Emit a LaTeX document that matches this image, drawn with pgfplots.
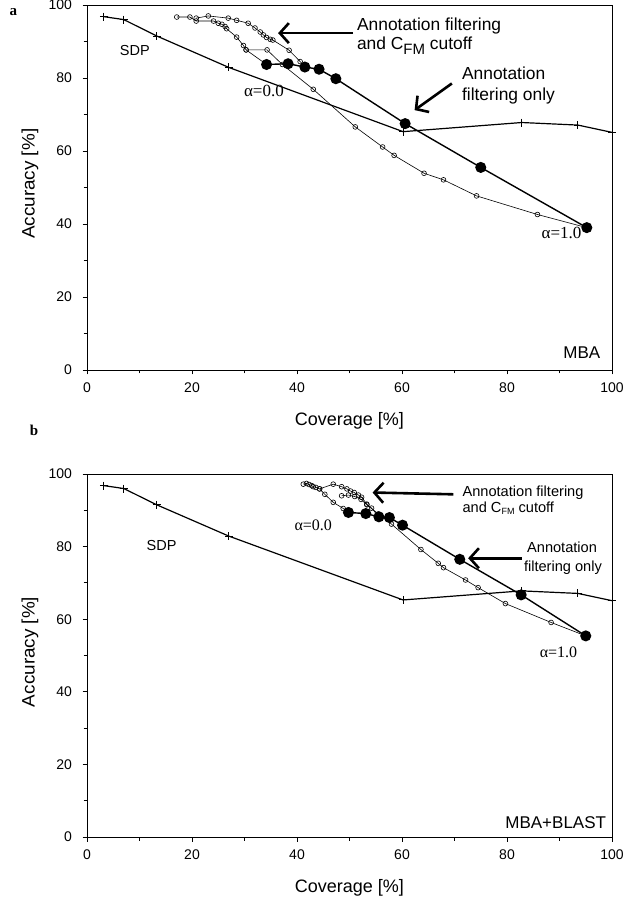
\documentclass[border=0pt]{standalone}
\usepackage{fontspec}
\setmainfont{Liberation Sans}
\newfontfamily\serifalpha{Liberation Serif}
\usepackage{pgfplots}
\pgfplotsset{compat=1.18}
\usetikzlibrary{arrows.meta}

\tikzset{bigarrow/.style={line width=2.6pt, -{Straight Barb[length=9pt,width=20pt]}}}
\pgfplotsset{
  mystyle/.style={
    width=525pt, scale only axis,
    xmin=0,xmax=100,ymin=0,ymax=100,
    xtick={0,20,...,100}, ytick={0,20,...,100},
    minor x tick num=1, minor y tick num=1,
    xtick pos=bottom, ytick pos=left, tick align=outside,
    major tick length=4.5pt, minor tick length=3.5pt,
    axis line style={line width=0.9pt},
    every tick/.style={line width=0.9pt, black},
    /pgf/number format/assume math mode=true,
    ticklabel style={font=\fontsize{14}{15}\selectfont},
    xticklabel style={yshift=-5pt},
    yticklabel style={xshift=-7pt},
    xlabel={Coverage [\%]}, ylabel={\scalebox{1.05}[1]{Accuracy [\%]}},
    label style={font=\fontsize{18}{20}\selectfont},
    xlabel style={at={(axis description cs:0.5,-0.14)}, anchor=center},
    ylabel style={at={(axis description cs:-0.1086,0.51)}, anchor=center},
    clip=false,
  },
  sdp/.style={black, line width=1.2pt, mark=+, mark size=4pt, mark options={line width=1pt}},
  filled/.style={black, line width=1.4pt, mark=*, mark size=4.8pt},
  openc/.style={black, line width=0.6pt, mark=o, mark size=2.4pt, mark options={fill=white, line width=0.6pt}},
}

\begin{document}
\begin{tikzpicture}
\path[use as bounding box] (0,0) rectangle (627pt,899pt);
\node[anchor=base west, font=\serifalpha\bfseries\fontsize{15}{16}\selectfont] at (6pt,883pt) {a};
\node[anchor=center, font=\serifalpha\bfseries\fontsize{15}{16}\selectfont] at (34pt,469pt) {b};

% ---------------- panel a ----------------
\begin{axis}[mystyle, height=365pt, at={(87pt,529pt)}, anchor=south west]
\addplot[openc] coordinates {(20.8,96.4) (23.1,97.0) (26.9,96.4) (28.5,95.8) (30.7,95.0) (32.0,93.7) (33.0,92.6) (33.6,91.8) (34.2,91.1) (34.9,90.6) (35.4,90.4) (38.5,87.6) (40.6,84.5) (41.5,83.0)};
\addplot[openc] coordinates {(17.1,96.7) (19.6,96.7) (20.8,95.6) (24.1,95.6) (25.0,95.0) (25.7,94.7) (26.3,94.1) (26.6,93.5) (28.5,91.2) (29.8,88.9) (30.3,87.7) (34.2,83.7)};
\addplot[openc] coordinates {(30.3,87.7) (34.3,87.7) (37.2,83.7) (43.1,76.9) (51.1,66.6) (56.3,61.1) (58.5,58.8) (64.2,53.9) (67.9,52.1) (74.2,47.7) (85.8,42.6) (95.2,39.0)};
\addplot[sdp] coordinates {(3.2,96.8) (7.0,96.0) (13.3,91.5) (27.0,82.9) (60.2,65.3) (82.8,67.8) (93.5,67.1) (100,65.1)};
\addplot[filled] coordinates {(34.2,83.7) (38.3,83.9) (41.5,83.0) (44.2,82.4) (47.4,79.8) (60.6,67.5) (75.0,55.5) (95.2,39.0)};

\node[anchor=center, font=\fontsize{14.5}{15}\selectfont] at (axis cs:9.1,87.5) {SDP};
\node[anchor=center, font=\serifalpha\fontsize{17}{18}\selectfont] at (axis cs:33.7,76.5) {α=0.0};
\node[anchor=center, font=\serifalpha\fontsize{17}{18}\selectfont] at (axis cs:90.4,37.6) {α=1.0};
\node[anchor=base east, font=\fontsize{17}{18}\selectfont, inner sep=0pt] at (axis cs:97.8,3.2) {MBA};

\draw[bigarrow] (axis cs:50.7,92.3) -- (axis cs:36.4,92.3);
\node[anchor=base west, inner sep=0pt, font=\fontsize{17.4}{18}\selectfont] at (axis cs:51.4,93.0) {Annotation filtering};
\node[anchor=base west, inner sep=0pt, font=\fontsize{17.4}{18}\selectfont] at (axis cs:51.4,87.9) {and C\raisebox{-5pt}{\fontsize{15}{15}\selectfont FM} cutoff};

\draw[bigarrow] (axis cs:69.5,78.5) -- (axis cs:62.4,71.2);
\node[anchor=base west, inner sep=0pt, font=\fontsize{17.4}{18}\selectfont] at (axis cs:71.4,79.5) {Annotation};
\node[anchor=base west, inner sep=0pt, font=\fontsize{17.4}{18}\selectfont] at (axis cs:71.4,73.7) {filtering only};
\end{axis}

% ---------------- panel b ----------------
\begin{axis}[mystyle, height=363pt, at={(87pt,62pt)}, anchor=south west]
\addplot[openc] coordinates {(44.3,95.9) (46.9,97.2) (48.5,96.5) (49.5,95.9) (50.2,95.3) (50.9,94.9) (51.7,94.2) (52.3,93.6) (53.3,91.7) (54.2,90.6) (55.6,88.2)};
\addplot[openc] coordinates {(41.2,97.2) (41.8,97.4) (42.3,97.1) (42.8,96.8) (43.1,96.5) (43.6,96.3) (44.3,95.9) (45.3,94.4) (46.9,92.2) (48.8,90.5) (49.8,89.4)};
\addplot[openc] coordinates {(48.5,94.0) (49.8,94.2) (51.0,93.8) (52.2,93.0) (53.3,91.5) (55.5,89.0) (58.0,86.2) (63.6,79.2) (66.9,75.4) (67.9,74.2) (72.1,70.8) (74.5,68.7) (79.7,64.3) (88.4,59.1) (95.0,55.4)};
\addplot[sdp] coordinates {(3.2,96.8) (7.0,96.0) (13.3,91.5) (27.0,82.9) (60.2,65.3) (82.8,67.8) (93.5,67.1) (100,65.1)};
\addplot[filled] coordinates {(49.8,89.4) (53.1,89.1) (55.6,88.2) (57.6,88.0) (60.1,85.9) (71.0,76.5) (82.7,66.7) (95.0,55.4)};

\node[anchor=center, font=\fontsize{14.5}{15}\selectfont] at (axis cs:14.2,80.4) {SDP};
\node[anchor=center, font=\serifalpha\fontsize{16}{17}\selectfont] at (axis cs:43.1,86.0) {α=0.0};
\node[anchor=center, font=\serifalpha\fontsize{16}{17}\selectfont] at (axis cs:89.8,50.9) {α=1.0};
\node[anchor=base east, font=\fontsize{17}{18}\selectfont, inner sep=0pt] at (axis cs:98.9,2.3) {MBA+BLAST};

\draw[bigarrow] (axis cs:69.8,94.4) -- (axis cs:54.4,94.9);
\node[anchor=base west, inner sep=0pt, font=\fontsize{14.6}{15}\selectfont] at (axis cs:71.5,93.7) {Annotation filtering};
\node[anchor=base west, inner sep=0pt, font=\fontsize{14.6}{15}\selectfont] at (axis cs:71.5,89.3) {and C\raisebox{-2pt}{\fontsize{9}{9}\selectfont FM} cutoff};

\draw[bigarrow] (axis cs:82.8,76.8) -- (axis cs:72.6,76.8);
\node[anchor=base west, inner sep=0pt, font=\fontsize{14.6}{15}\selectfont] at (axis cs:83.8,78.3) {Annotation};
\node[anchor=base west, inner sep=0pt, font=\fontsize{14.6}{15}\selectfont] at (axis cs:83.2,73.1) {filtering only};
\end{axis}
\end{tikzpicture}
\end{document}
